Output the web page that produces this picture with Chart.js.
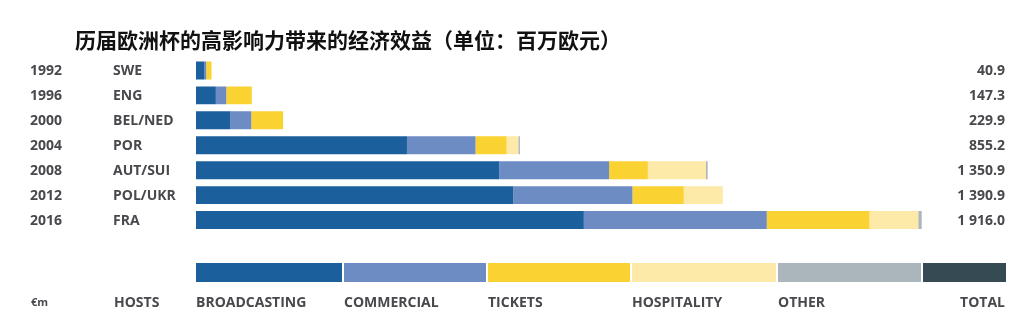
<!DOCTYPE html>
<html>
<head>
<meta charset="utf-8">
<script src="https://cdn.jsdelivr.net/npm/chart.js@4/dist/chart.umd.min.js"></script>
<style>
  html, body { margin: 0; padding: 0; background: #fff; }
  #wrap { width: 1021px; height: 323px; position: relative; }
</style>
</head>
<body>
<div id="wrap"><canvas id="euroChart"></canvas></div>
<script>
// Chart data (€m)
const years = ["1992", "1996", "2000", "2004", "2008", "2012", "2016"];
const hosts = ["SWE", "ENG", "BEL/NED", "POR", "AUT/SUI", "POL/UKR", "FRA"];
const broadcasting = [22.5, 52.4, 91.2, 557.0, 800.6, 837.7, 1024.0];
const commercial = [4.5, 27.5, 54.7, 181.0, 290.1, 314.6, 483.0];
const tickets = [13.9, 67.4, 84.0, 82.0, 102.3, 135.5, 271.0];
const hospitality = [0, 0, 0, 31.0, 153.6, 103.1, 129.0];
const other = [0, 0, 0, 4.2, 4.3, 0, 9.0];
const totals = [40.9, 147.3, 229.9, 855.2, 1350.9, 1390.9, 1916.0];

const seriesNames = ["BROADCASTING", "COMMERCIAL", "TICKETS", "HOSPITALITY", "OTHER"];
const colors = ["#1b5f9d", "#6c8cc3", "#fad232", "#fde9a8", "#aab5bc"];
const totalColor = "#354a52";
const title = "历届欧洲杯的高影响力带来的经济效益（单位：百万欧元）";

const textColor = "#48484d";
const labelFont = "bold 14px 'Open Sans'";

// thousands separated with a space, one decimal
function fmtTotal(v) {
  const parts = v.toFixed(1).split(".");
  return parts[0].replace(/\B(?=(\d{3})+(?!\d))/g, " ") + "." + parts[1];
}

// Draws title, row labels, totals and the colour key
const annotations = {
  id: "annotations",
  afterDraw(chart) {
    const ctx = chart.ctx;
    const yScale = chart.scales.y;
    ctx.save();

    ctx.fillStyle = "#111";
    ctx.font = "bold 21px 'Noto Sans CJK SC'";
    ctx.textBaseline = "middle";
    ctx.textAlign = "left";
    ctx.fillText(title, 75, 40);

    ctx.font = labelFont;
    ctx.fillStyle = textColor;
    years.forEach((yr, i) => {
      const y = yScale.getPixelForValue(i) + 1;
      ctx.textAlign = "left";
      ctx.fillText(yr, 30, y);
      ctx.fillText(hosts[i], 113, y);
      ctx.textAlign = "right";
      ctx.fillText(fmtTotal(totals[i]), 1005, y);
    });

    // key strip
    const keyStarts = [196, 344, 488, 632, 778];
    const keyEnds = [342, 486, 630, 776, 921];
    keyStarts.forEach((x, i) => {
      ctx.fillStyle = colors[i];
      ctx.fillRect(x, 263, keyEnds[i] - x, 19);
      ctx.fillStyle = textColor;
      ctx.textAlign = "left";
      ctx.fillText(seriesNames[i], x, 303);
    });
    ctx.fillStyle = totalColor;
    ctx.fillRect(923, 263, 83, 19);
    ctx.fillStyle = textColor;
    ctx.textAlign = "right";
    ctx.fillText("TOTAL", 1005, 303);
    ctx.textAlign = "left";
    ctx.fillText("HOSTS", 114, 303);
    ctx.font = "bold 11px 'Open Sans'";
    ctx.fillText("€m", 31, 303);

    ctx.restore();
  },
};

const datasets = [broadcasting, commercial, tickets, hospitality, other].map((d, i) => ({
  label: seriesNames[i],
  data: d,
  backgroundColor: colors[i],
  borderWidth: 0,
  barPercentage: 0.72,
  categoryPercentage: 1,
}));

new Chart(document.getElementById("euroChart"), {
  type: "bar",
  data: { labels: years, datasets: datasets },
  options: {
    indexAxis: "y",
    responsive: true,
    maintainAspectRatio: false,
    animation: false,
    layout: { padding: { left: 196, right: 67.5, top: 58, bottom: 90.5 } },
    scales: {
      x: { stacked: true, min: 0, max: 2000, display: false },
      y: { stacked: true, display: false },
    },
    plugins: {
      legend: { display: false },
      tooltip: { enabled: false },
    },
  },
  plugins: [annotations],
});
</script>
</body>
</html>
